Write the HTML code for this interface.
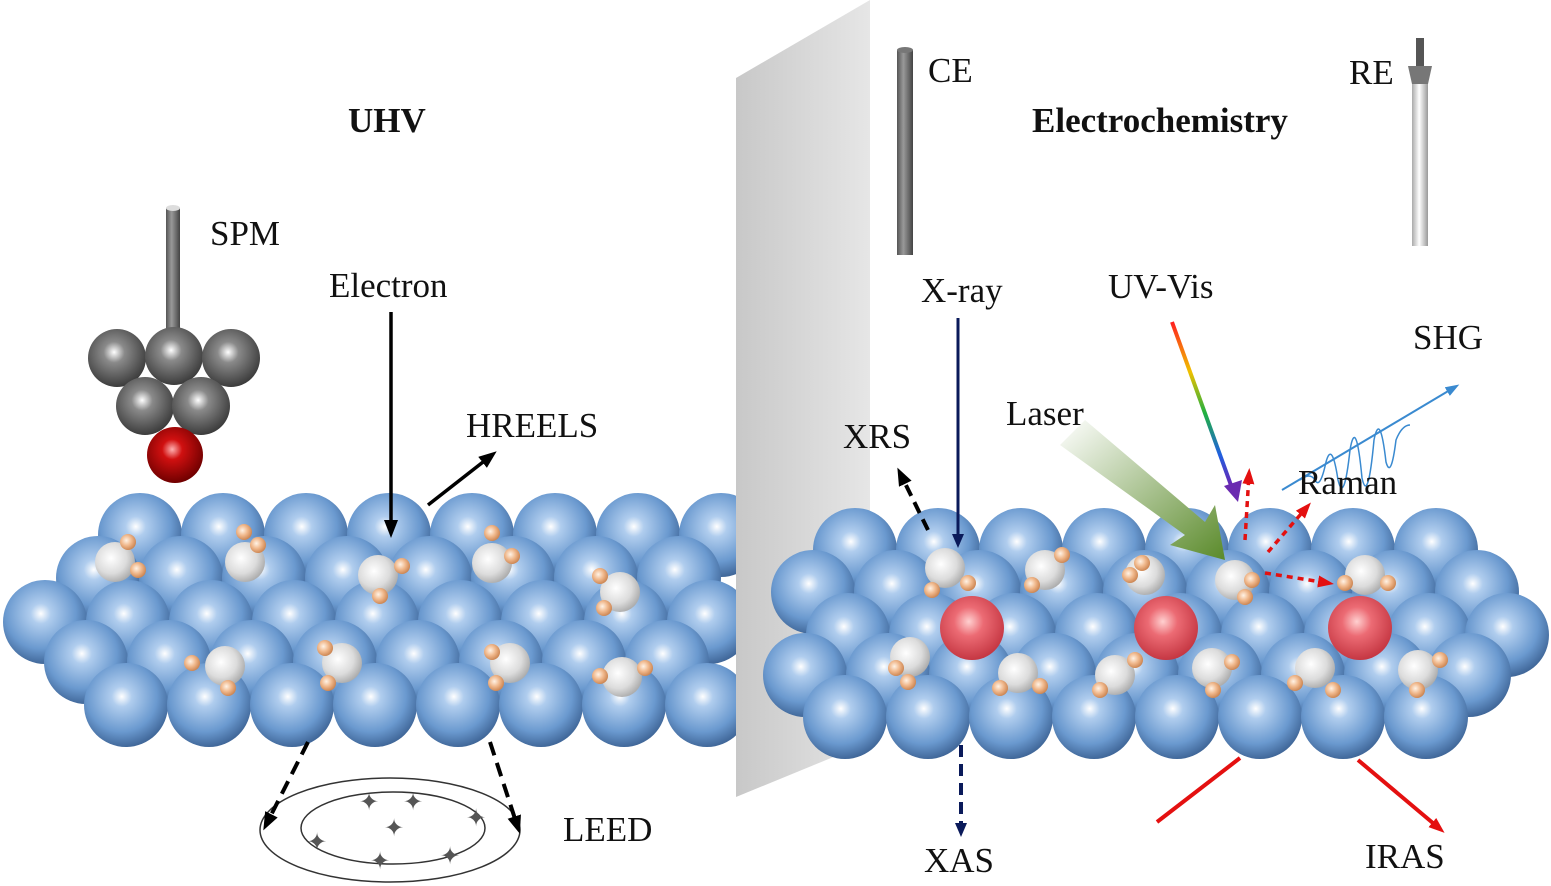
<!DOCTYPE html>
<html><head><meta charset="utf-8"><style>
html,body{margin:0;padding:0;background:#fff;width:1551px;height:886px;overflow:hidden}
svg{display:block}
text{font-family:"Liberation Serif",serif;font-size:35px;fill:#111}
</style></head><body>
<svg width="1551" height="886" viewBox="0 0 1551 886" xmlns="http://www.w3.org/2000/svg">
<defs>
<radialGradient id="b" cx="0.45" cy="0.4" r="0.6">
<stop offset="0" stop-color="#ffffff"/><stop offset="0.2" stop-color="#b0cdee"/><stop offset="0.7" stop-color="#6a99cf"/><stop offset="1" stop-color="#41689a"/></radialGradient>
<radialGradient id="w" cx="0.4" cy="0.4" r="0.65">
<stop offset="0" stop-color="#ffffff"/><stop offset="0.6" stop-color="#dcdcdc"/><stop offset="1" stop-color="#a8a8a8"/></radialGradient>
<radialGradient id="o" cx="0.4" cy="0.4" r="0.65">
<stop offset="0" stop-color="#fff3e6"/><stop offset="0.5" stop-color="#f0b88c"/><stop offset="1" stop-color="#c8804c"/></radialGradient>
<radialGradient id="r" cx="0.45" cy="0.4" r="0.65">
<stop offset="0" stop-color="#ffd0d0"/><stop offset="0.35" stop-color="#ec6b74"/><stop offset="1" stop-color="#c0303c"/></radialGradient>
<radialGradient id="g" cx="0.45" cy="0.4" r="0.6">
<stop offset="0" stop-color="#ffffff"/><stop offset="0.3" stop-color="#8a8a8a"/><stop offset="1" stop-color="#3c3c3c"/></radialGradient>
<radialGradient id="dr" cx="0.45" cy="0.4" r="0.6">
<stop offset="0" stop-color="#ffb0b0"/><stop offset="0.3" stop-color="#d01010"/><stop offset="1" stop-color="#700000"/></radialGradient>
<linearGradient id="panel" x1="0" x2="1"><stop offset="0" stop-color="#c8c8c8"/><stop offset="1" stop-color="#e6e6e6"/></linearGradient>
<linearGradient id="rod" x1="0" x2="1"><stop offset="0" stop-color="#555"/><stop offset="0.4" stop-color="#999"/><stop offset="1" stop-color="#444"/></linearGradient>
<linearGradient id="rod2" x1="0" x2="1"><stop offset="0" stop-color="#aaa"/><stop offset="0.45" stop-color="#fff"/><stop offset="1" stop-color="#999"/></linearGradient>
<linearGradient id="laser" x1="0" y1="0" x2="1" y2="1"><stop offset="0" stop-color="#ffffff"/><stop offset="1" stop-color="#5a8a2a"/></linearGradient>
<linearGradient id="rainbow" x1="0" y1="0" x2="0" y2="1"><stop offset="0" stop-color="#ff2020"/><stop offset="0.3" stop-color="#f0c000"/><stop offset="0.55" stop-color="#20b040"/><stop offset="0.8" stop-color="#2060e0"/><stop offset="1" stop-color="#7020b0"/></linearGradient>
<marker id="ak" markerWidth="18" markerHeight="14" refX="12" refY="7" orient="auto" markerUnits="userSpaceOnUse"><path d="M0,0 L18,7 L0,14 z" fill="#000"/></marker>
<marker id="an" markerWidth="14" markerHeight="12" refX="9" refY="6" orient="auto" markerUnits="userSpaceOnUse"><path d="M0,0 L14,6 L0,12 z" fill="#0a1a5a"/></marker>
<marker id="ar" markerWidth="16" markerHeight="12" refX="10" refY="6" orient="auto" markerUnits="userSpaceOnUse"><path d="M0,0 L16,6 L0,12 z" fill="#e41010"/></marker>
<marker id="ab" markerWidth="14" markerHeight="10" refX="9" refY="5" orient="auto" markerUnits="userSpaceOnUse"><path d="M0,0 L14,5 L0,10 z" fill="#3a8ad0"/></marker>
</defs>

<g fill="url(#b)">
<circle cx="140" cy="535" r="42"/><circle cx="223" cy="535" r="42"/><circle cx="306" cy="535" r="42"/><circle cx="389" cy="535" r="42"/><circle cx="472" cy="535" r="42"/><circle cx="555" cy="535" r="42"/><circle cx="638" cy="535" r="42"/><circle cx="721" cy="535" r="42"/>
<circle cx="98" cy="578" r="42"/><circle cx="181" cy="578" r="42"/><circle cx="264" cy="578" r="42"/><circle cx="347" cy="578" r="42"/><circle cx="430" cy="578" r="42"/><circle cx="513" cy="578" r="42"/><circle cx="596" cy="578" r="42"/><circle cx="679" cy="578" r="42"/>
<circle cx="45" cy="622" r="42"/><circle cx="128" cy="622" r="42"/><circle cx="211" cy="622" r="42"/><circle cx="294" cy="622" r="42"/><circle cx="377" cy="622" r="42"/><circle cx="460" cy="622" r="42"/><circle cx="543" cy="622" r="42"/><circle cx="626" cy="622" r="42"/><circle cx="709" cy="622" r="42"/>
<circle cx="86" cy="662" r="42"/><circle cx="169" cy="662" r="42"/><circle cx="252" cy="662" r="42"/><circle cx="335" cy="662" r="42"/><circle cx="418" cy="662" r="42"/><circle cx="501" cy="662" r="42"/><circle cx="584" cy="662" r="42"/><circle cx="667" cy="662" r="42"/>
<circle cx="126" cy="705" r="42"/><circle cx="209" cy="705" r="42"/><circle cx="292" cy="705" r="42"/><circle cx="375" cy="705" r="42"/><circle cx="458" cy="705" r="42"/><circle cx="541" cy="705" r="42"/><circle cx="624" cy="705" r="42"/><circle cx="707" cy="705" r="42"/>
</g>
<g>
<circle cx="115" cy="562" r="20" fill="url(#w)"/><circle cx="128" cy="542" r="8" fill="url(#o)"/><circle cx="138" cy="570" r="8" fill="url(#o)"/>
<circle cx="245" cy="562" r="20" fill="url(#w)"/><circle cx="244" cy="532" r="8" fill="url(#o)"/><circle cx="258" cy="545" r="8" fill="url(#o)"/>
<circle cx="378" cy="575" r="20" fill="url(#w)"/><circle cx="402" cy="566" r="8" fill="url(#o)"/><circle cx="380" cy="596" r="8" fill="url(#o)"/>
<circle cx="492" cy="563" r="20" fill="url(#w)"/><circle cx="492" cy="533" r="8" fill="url(#o)"/><circle cx="512" cy="556" r="8" fill="url(#o)"/>
<circle cx="620" cy="592" r="20" fill="url(#w)"/><circle cx="600" cy="576" r="8" fill="url(#o)"/><circle cx="604" cy="608" r="8" fill="url(#o)"/>
<circle cx="225" cy="666" r="20" fill="url(#w)"/><circle cx="192" cy="663" r="8" fill="url(#o)"/><circle cx="228" cy="688" r="8" fill="url(#o)"/>
<circle cx="342" cy="663" r="20" fill="url(#w)"/><circle cx="325" cy="648" r="8" fill="url(#o)"/><circle cx="328" cy="683" r="8" fill="url(#o)"/>
<circle cx="510" cy="663" r="20" fill="url(#w)"/><circle cx="492" cy="652" r="8" fill="url(#o)"/><circle cx="496" cy="683" r="8" fill="url(#o)"/>
<circle cx="622" cy="677" r="20" fill="url(#w)"/><circle cx="600" cy="676" r="8" fill="url(#o)"/><circle cx="645" cy="668" r="8" fill="url(#o)"/>
</g>

<polygon points="736,78 870,0 870,742 736,797" fill="url(#panel)"/>

<g fill="url(#b)">
<circle cx="855" cy="550" r="42"/><circle cx="938" cy="550" r="42"/><circle cx="1021" cy="550" r="42"/><circle cx="1104" cy="550" r="42"/><circle cx="1187" cy="550" r="42"/><circle cx="1270" cy="550" r="42"/><circle cx="1353" cy="550" r="42"/><circle cx="1436" cy="550" r="42"/>
<circle cx="813" cy="592" r="42"/><circle cx="896" cy="592" r="42"/><circle cx="979" cy="592" r="42"/><circle cx="1062" cy="592" r="42"/><circle cx="1145" cy="592" r="42"/><circle cx="1228" cy="592" r="42"/><circle cx="1311" cy="592" r="42"/><circle cx="1394" cy="592" r="42"/><circle cx="1477" cy="592" r="42"/>
<circle cx="848" cy="635" r="42"/><circle cx="931" cy="635" r="42"/><circle cx="1014" cy="635" r="42"/><circle cx="1097" cy="635" r="42"/><circle cx="1180" cy="635" r="42"/><circle cx="1263" cy="635" r="42"/><circle cx="1346" cy="635" r="42"/><circle cx="1429" cy="635" r="42"/><circle cx="1507" cy="635" r="42"/>
<circle cx="805" cy="675" r="42"/><circle cx="888" cy="675" r="42"/><circle cx="971" cy="675" r="42"/><circle cx="1054" cy="675" r="42"/><circle cx="1137" cy="675" r="42"/><circle cx="1220" cy="675" r="42"/><circle cx="1303" cy="675" r="42"/><circle cx="1386" cy="675" r="42"/><circle cx="1469" cy="675" r="42"/>
<circle cx="845" cy="717" r="42"/><circle cx="928" cy="717" r="42"/><circle cx="1011" cy="717" r="42"/><circle cx="1094" cy="717" r="42"/><circle cx="1177" cy="717" r="42"/><circle cx="1260" cy="717" r="42"/><circle cx="1343" cy="717" r="42"/><circle cx="1426" cy="717" r="42"/>
</g>
<g>
<circle cx="972" cy="628" r="32" fill="url(#r)"/><circle cx="1166" cy="628" r="32" fill="url(#r)"/><circle cx="1360" cy="628" r="32" fill="url(#r)"/>
<circle cx="945" cy="568" r="20" fill="url(#w)"/><circle cx="932" cy="590" r="8" fill="url(#o)"/><circle cx="968" cy="583" r="8" fill="url(#o)"/>
<circle cx="1045" cy="570" r="20" fill="url(#w)"/><circle cx="1032" cy="585" r="8" fill="url(#o)"/><circle cx="1062" cy="555" r="8" fill="url(#o)"/>
<circle cx="1145" cy="575" r="20" fill="url(#w)"/><circle cx="1130" cy="575" r="8" fill="url(#o)"/><circle cx="1142" cy="563" r="8" fill="url(#o)"/>
<circle cx="1235" cy="580" r="20" fill="url(#w)"/><circle cx="1245" cy="597" r="8" fill="url(#o)"/><circle cx="1252" cy="580" r="8" fill="url(#o)"/>
<circle cx="1365" cy="575" r="20" fill="url(#w)"/><circle cx="1345" cy="583" r="8" fill="url(#o)"/><circle cx="1388" cy="583" r="8" fill="url(#o)"/>
<circle cx="910" cy="657" r="20" fill="url(#w)"/><circle cx="896" cy="668" r="8" fill="url(#o)"/><circle cx="908" cy="682" r="8" fill="url(#o)"/>
<circle cx="1018" cy="673" r="20" fill="url(#w)"/><circle cx="1000" cy="688" r="8" fill="url(#o)"/><circle cx="1040" cy="686" r="8" fill="url(#o)"/>
<circle cx="1115" cy="675" r="20" fill="url(#w)"/><circle cx="1100" cy="690" r="8" fill="url(#o)"/><circle cx="1135" cy="660" r="8" fill="url(#o)"/>
<circle cx="1212" cy="668" r="20" fill="url(#w)"/><circle cx="1232" cy="662" r="8" fill="url(#o)"/><circle cx="1213" cy="690" r="8" fill="url(#o)"/>
<circle cx="1315" cy="668" r="20" fill="url(#w)"/><circle cx="1295" cy="683" r="8" fill="url(#o)"/><circle cx="1333" cy="690" r="8" fill="url(#o)"/>
<circle cx="1418" cy="670" r="20" fill="url(#w)"/><circle cx="1417" cy="690" r="8" fill="url(#o)"/><circle cx="1440" cy="660" r="8" fill="url(#o)"/>
</g>

<rect x="166" y="208" width="14" height="130" fill="url(#rod)"/>
<ellipse cx="173" cy="208" rx="7" ry="3" fill="#ddd"/>
<circle cx="117" cy="358" r="29" fill="url(#g)"/><circle cx="174" cy="356" r="29" fill="url(#g)"/><circle cx="231" cy="358" r="29" fill="url(#g)"/>
<circle cx="145" cy="406" r="29" fill="url(#g)"/><circle cx="201" cy="406" r="29" fill="url(#g)"/>
<circle cx="175" cy="455" r="28" fill="url(#dr)"/>

<rect x="897" y="50" width="16" height="205" fill="url(#rod)"/>
<ellipse cx="905" cy="50" rx="8" ry="3" fill="#777"/>
<rect x="1412" y="80" width="16" height="166" fill="url(#rod2)"/>
<rect x="1416" y="38" width="8" height="30" fill="#555"/>
<polygon points="1408,66 1432,66 1428,84 1412,84" fill="#777"/>

<ellipse cx="390" cy="830" rx="130" ry="52" fill="none" stroke="#333" stroke-width="1.5"/>
<ellipse cx="393" cy="828" rx="92" ry="36" fill="none" stroke="#333" stroke-width="1.5"/>
<g style="fill:#555;font-size:24px"><text x="359" y="810" style="fill:#555;font-size:24px">✦</text><text x="403" y="810" style="fill:#555;font-size:24px">✦</text><text x="466" y="826" style="fill:#555;font-size:24px">✦</text><text x="384" y="836" style="fill:#555;font-size:24px">✦</text><text x="307" y="850" style="fill:#555;font-size:24px">✦</text><text x="370" y="869" style="fill:#555;font-size:24px">✦</text><text x="440" y="864" style="fill:#555;font-size:24px">✦</text></g>
<line x1="308" y1="742" x2="266" y2="825" stroke="#000" stroke-width="4" stroke-dasharray="14,8" marker-end="url(#ak)"/>
<line x1="490" y1="742" x2="518" y2="828" stroke="#000" stroke-width="4" stroke-dasharray="14,8" marker-end="url(#ak)"/>

<line x1="391" y1="312" x2="391" y2="532" stroke="#000" stroke-width="3.5" marker-end="url(#ak)"/>
<line x1="428" y1="505" x2="492" y2="455" stroke="#000" stroke-width="3.5" marker-end="url(#ak)"/>

<line x1="958" y1="318" x2="958" y2="543" stroke="#0a1a5a" stroke-width="3" marker-end="url(#an)"/>
<line x1="928" y1="530" x2="900" y2="473" stroke="#000" stroke-width="4" stroke-dasharray="12,7" marker-end="url(#ak)"/>
<line x1="961" y1="745" x2="961" y2="832" stroke="#0a1a5a" stroke-width="4" stroke-dasharray="12,7" marker-end="url(#an)"/>

<polygon points="1060,445 1085,420 1205,522 1215,505 1225,560 1170,545 1185,535" fill="url(#laser)"/>

<line x1="1172" y1="322" x2="1232" y2="488" stroke="url(#rainbow)" stroke-width="4"/>
<polygon points="1224,486 1242,480 1238,502" fill="#6a2ab0"/>

<g stroke="#e41010" stroke-width="3.5" stroke-dasharray="6,5" fill="none">
<line x1="1245" y1="540" x2="1249" y2="474" marker-end="url(#ar)"/>
<line x1="1268" y1="552" x2="1307" y2="507" marker-end="url(#ar)"/>
<line x1="1265" y1="573" x2="1328" y2="583" marker-end="url(#ar)"/>
</g>

<line x1="1282" y1="490" x2="1455" y2="387" stroke="#3a8ad0" stroke-width="2" marker-end="url(#ab)"/>
<path d="M1300,480 Q1310,472 1315,480 Q1320,490 1326,462 Q1332,440 1338,480 Q1344,505 1350,450 Q1356,415 1362,478 Q1368,505 1374,440 Q1380,410 1386,462 Q1391,480 1396,440 Q1402,425 1410,425" fill="none" stroke="#3a8ad0" stroke-width="1.5"/>

<line x1="1157" y1="822" x2="1240" y2="758" stroke="#e41010" stroke-width="4"/>
<line x1="1358" y1="760" x2="1440" y2="829" stroke="#e41010" stroke-width="4" marker-end="url(#ar)"/>

<text x="348" y="132" style="font-weight:bold">UHV</text>
<text x="1032" y="132" style="font-weight:bold">Electrochemistry</text>
<text x="210" y="245">SPM</text>
<text x="329" y="297">Electron</text>
<text x="466" y="437">HREELS</text>
<text x="563" y="841">LEED</text>
<text x="928" y="82">CE</text>
<text x="1349" y="84">RE</text>
<text x="921" y="302">X-ray</text>
<text x="1108" y="298">UV-Vis</text>
<text x="1413" y="349">SHG</text>
<text x="1006" y="425">Laser</text>
<text x="843" y="448">XRS</text>
<text x="1298" y="494">Raman</text>
<text x="924" y="872">XAS</text>
<text x="1365" y="868">IRAS</text>
</svg>
</body></html>
